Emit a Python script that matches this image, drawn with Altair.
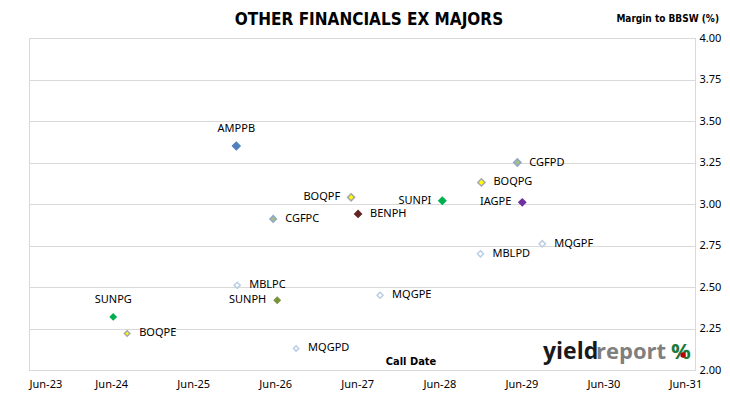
import altair as alt
import pandas as pd

# ---- data ----
names = ["AMPPB", "CGFPD", "BOQPG", "BOQPF", "SUNPI", "IAGPE", "BENPH", "CGFPC",
         "MQGPF", "MBLPD", "MBLPC", "MQGPE", "SUNPH", "SUNPG", "BOQPE", "MQGPD"]
call_dates = ["2025-12-10", "2029-05-14", "2028-12-05", "2027-05-05", "2028-06-14",
              "2029-06-05", "2027-06-05", "2026-05-23", "2029-09-02", "2028-12-01",
              "2025-12-14", "2027-09-11", "2026-06-10", "2024-06-10", "2024-08-11",
              "2026-09-02"]
margins = [3.35, 3.25, 3.13, 3.04, 3.02, 3.01, 2.94, 2.91,
           2.76, 2.70, 2.51, 2.45, 2.42, 2.32, 2.22, 2.13]
label_side = ["above", "right", "right", "left", "left", "left", "right", "right",
              "right", "right", "right", "right", "left", "above", "right", "right"]

y_ticks = [2.00, 2.25, 2.50, 2.75, 3.00, 3.25, 3.50, 3.75, 4.00]
x_tick_years = list(range(2023, 2032))

# ---- styles ----
fill_map = {
    "AMPPB": "#4F81BD", "CGFPD": "#A8BC86", "BOQPG": "#FFFF00", "BOQPF": "#FFFF00",
    "SUNPI": "#00B050", "IAGPE": "#7030A0", "BENPH": "#632523", "CGFPC": "#A8BC86",
    "MQGPF": "#FFFFFF", "MBLPD": "#FFFFFF", "MBLPC": "#FFFFFF", "MQGPE": "#FFFFFF",
    "SUNPH": "#77933C", "SUNPG": "#00B050", "BOQPE": "#FFFF00", "MQGPD": "#FFFFFF",
}
stroke_map = {
    "AMPPB": "#4F81BD", "CGFPD": "#8EA9C4", "BOQPG": "#A6A6A6", "BOQPF": "#A6A6A6",
    "SUNPI": "#00B050", "IAGPE": "#7030A0", "BENPH": "#632523", "CGFPC": "#8EA9C4",
    "MQGPF": "#B9CDE5", "MBLPD": "#B9CDE5", "MBLPC": "#B9CDE5", "MQGPE": "#B9CDE5",
    "SUNPH": "#77933C", "SUNPG": "#00B050", "BOQPE": "#A6A6A6", "MQGPD": "#B9CDE5",
}
size_map = {n: 28 for n in names}
size_map["AMPPB"] = 55

df = pd.DataFrame({"name": names, "date": call_dates, "margin": margins, "side": label_side})

FONT = "Noto Sans"
TITLE_FONT = "DejaVu Sans Condensed, Liberation Sans, sans-serif"

x_enc = alt.X(
    "date:T",
    scale=alt.Scale(type="utc", domain=[alt.DateTime(year=2023, month=6, date=1, utc=True),
                                        alt.DateTime(year=2031, month=7, date=14, utc=True)]),
    axis=alt.Axis(values=[alt.DateTime(year=y, month=6, date=1, utc=True) for y in x_tick_years],
                  format="%b-%y", grid=False, ticks=False, domain=False, labelPadding=8,
                  labelFont=FONT, labelFontSize=11, labelColor="#000000", title=None),
)
y_enc = alt.Y(
    "margin:Q",
    scale=alt.Scale(domain=[2, 4], nice=False, zero=False),
    axis=alt.Axis(orient="right", values=y_ticks, format=".2f", grid=True, gridColor="#D9D9D9",
                  ticks=False, domain=True, domainColor="#D9D9D9", labelPadding=4,
                  labelFont=FONT, labelFontSize=11, labelColor="#000000", title=None),
)

base = alt.Chart(df)

points = base.mark_point(shape="diamond", filled=True, opacity=1, strokeWidth=1.5).encode(
    x=x_enc, y=y_enc,
    fill=alt.Fill("name:N", scale=alt.Scale(domain=names, range=[fill_map[n] for n in names]), legend=None),
    stroke=alt.Stroke("name:N", scale=alt.Scale(domain=names, range=[stroke_map[n] for n in names]), legend=None),
    size=alt.Size("name:N", scale=alt.Scale(domain=names, range=[size_map[n] for n in names]), legend=None),
)

lbl_right = base.transform_filter(alt.datum.side == "right").mark_text(
    align="left", baseline="middle", dx=12, font=FONT, fontSize=11, color="#000000"
).encode(x="date:T", y="margin:Q", text="name:N")
lbl_left = base.transform_filter(alt.datum.side == "left").mark_text(
    align="right", baseline="middle", dx=-11, font=FONT, fontSize=11, color="#000000"
).encode(x="date:T", y="margin:Q", text="name:N")
lbl_above = base.transform_filter(alt.datum.side == "above").mark_text(
    align="center", baseline="middle", dy=-17, font=FONT, fontSize=11, color="#000000"
).encode(x="date:T", y="margin:Q", text="name:N")

one = alt.Chart(pd.DataFrame({"k": [0]}))

title = one.mark_text(align="center", baseline="middle", font=TITLE_FONT,
                      fontSize=17, fontWeight="bold", color="#000000").encode(
    x=alt.value(340), y=alt.value(-18), text=alt.value("OTHER FINANCIALS EX MAJORS"))
ytitle = one.mark_text(align="right", baseline="middle", font=TITLE_FONT, fontSize=10,
                       fontWeight="bold", color="#000000").encode(
    x=alt.value(690), y=alt.value(-19), text=alt.value("Margin to BBSW (%)"))
xtitle = one.mark_text(align="center", baseline="middle", font=TITLE_FONT, fontSize=11,
                       fontWeight="bold", color="#000000").encode(
    x=alt.value(382), y=alt.value(324), text=alt.value("Call Date"))

logo_yield = one.mark_text(align="left", baseline="alphabetic", font="Open Sans", fontSize=23,
                           fontWeight="bold", color="#1A1A1A").encode(
    x=alt.value(514), y=alt.value(321), text=alt.value("yield"))
logo_report = one.mark_text(align="left", baseline="alphabetic", font="Open Sans", fontSize=22,
                            fontWeight="bold", color="#7F7F7F").encode(
    x=alt.value(567), y=alt.value(321), text=alt.value("report"))
logo_pct = one.mark_text(align="left", baseline="alphabetic", font="Open Sans", fontSize=22,
                         fontWeight="bold", color="#1E7A3A").encode(
    x=alt.value(642), y=alt.value(321), text=alt.value("%"))
logo_dot = one.mark_point(shape="circle", filled=True, opacity=1, color="#C00000", size=28).encode(
    x=alt.value(654), y=alt.value(317))

chart = alt.layer(
    points, lbl_right, lbl_left, lbl_above,
    title, ytitle, xtitle, logo_yield, logo_report, logo_pct, logo_dot,
).properties(
    width=666, height=332,
    autosize=alt.AutoSizeParams(type="none"),
    padding={"left": 21, "top": 30, "right": 27, "bottom": 21},
    background="#FFFFFF",
).configure_view(stroke="#D9D9D9", strokeWidth=1)

chart.save("out.html", embed_options={"renderer": "svg", "actions": False})
